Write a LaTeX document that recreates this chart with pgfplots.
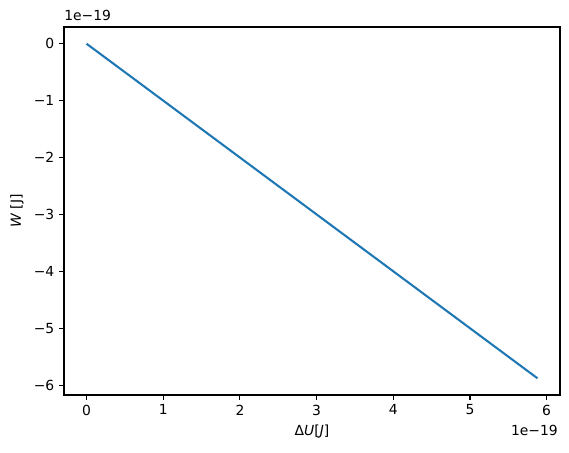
\documentclass[border=0pt]{standalone}
\usepackage{fontspec}
\setmainfont{DejaVu Sans}
\usepackage{pgfplots}
\pgfplotsset{compat=1.18}
\definecolor{mplblue}{RGB}{31,119,180}

\begin{document}
\begin{tikzpicture}
\begin{axis}[
    scale only axis,
    width=357.12pt, height=264.96pt,
    xmin=-0.294, xmax=6.174,
    ymin=-6.174, ymax=0.294,
    axis line style={line width=0.8pt},
    tick align=outside,
    major tick length=3.5pt,
    tick style={line width=0.8pt, black},
    xtick={0,1,2,3,4,5,6},
    xticklabels={0,1,2,3,4,5,6},
    ytick={-6,-5,-4,-3,-2,-1,0},
    yticklabels={−6,−5,−4,−3,−2,−1,0},
    xtick pos=bottom, ytick pos=left,
    ticklabel style={font=\fontsize{10}{12}\selectfont},
    xlabel={Δ\textit{U}[\textit{J}]},
    ylabel={\textit{W} [J]},
    label style={font=\fontsize{10}{12}\selectfont},
    xlabel style={at={(axis description cs:0.5,0)}, anchor=center, yshift=-26.6pt},
    ylabel style={at={(axis description cs:0,0.5)}, anchor=center, yshift=33.8pt},
    clip=false,
]
\addplot[mplblue, line width=1.5pt] coordinates {
    (0,0) (1,-1) (2,-2) (3,-3) (4,-4) (5,-5) (5.88,-5.88)
};
\node[anchor=south west, inner sep=0pt, font=\fontsize{10}{12}\selectfont]
    at (rel axis cs:0,1) [yshift=4pt] {1e−19};
\node[anchor=east, inner sep=0pt, font=\fontsize{10}{12}\selectfont]
    at (rel axis cs:1,0) [yshift=-25.2pt, xshift=-1.4pt] {1e−19};
\end{axis}
\pgfresetboundingbox
\path ([xshift=-46.08pt,yshift=-41.04pt]current axis.south west)
    rectangle ([xshift=6.48pt,yshift=19.44pt]current axis.north east);
\end{tikzpicture}
\end{document}
